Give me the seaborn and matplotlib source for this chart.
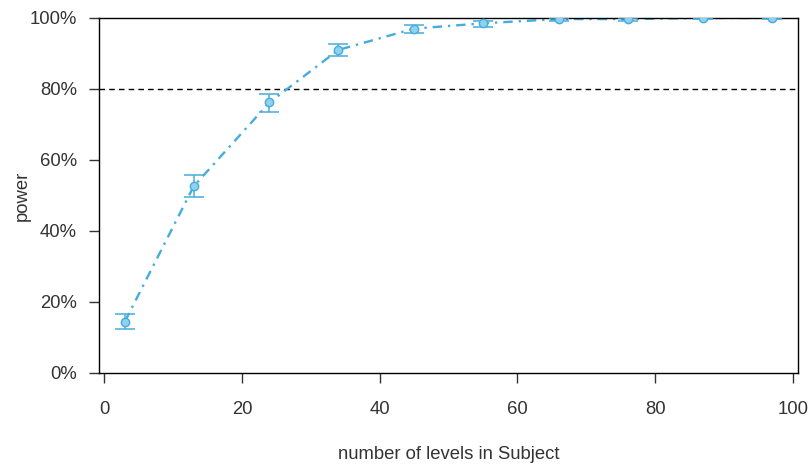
import numpy as np
import pandas as pd
import matplotlib
matplotlib.use('Agg')
import matplotlib.pyplot as plt
import seaborn as sns
from matplotlib.ticker import PercentFormatter

# data
n_levels = [3, 13, 24, 34, 45, 55, 66, 76, 87, 97]
power = [0.145, 0.526, 0.762, 0.910, 0.970, 0.985, 0.997, 0.997, 1.000, 1.000]
ci_lower = [0.124, 0.495, 0.734, 0.893, 0.958, 0.976, 0.992, 0.992, 0.996, 0.996]
ci_upper = [0.167, 0.557, 0.787, 0.927, 0.981, 0.992, 1.000, 1.000, 1.000, 1.000]
target = 0.8

LINE_COL = '#45addb'
FACE_COL = '#8fd2f0'
TXT = '#333333'
FS = 13.3

sns.set_theme(style='white')
plt.rcParams['font.family'] = ['Liberation Sans', 'DejaVu Sans']

df = pd.DataFrame({'n': n_levels, 'power': power})

fig = plt.figure(figsize=(8.1, 4.66), dpi=100)
ax = fig.add_axes([0.1222, 0.1996, 0.8630, 0.7618])

sns.lineplot(data=df, x='n', y='power', ax=ax, color=LINE_COL, linewidth=1.7,
             dashes=False, zorder=2)
ax.lines[0].set_dashes([4, 2.5, 1, 2.5])

yerr = [np.array(power) - np.array(ci_lower), np.array(ci_upper) - np.array(power)]
ax.errorbar(n_levels, power, yerr=yerr, fmt='none', ecolor=LINE_COL,
            elinewidth=1.1, capsize=7.5, capthick=1.1, zorder=3)
ax.scatter(n_levels, power, s=36, facecolor=FACE_COL, edgecolor=LINE_COL,
           linewidth=1.0, zorder=4)

ax.axhline(target, color='black', linestyle=(0, (4, 3)), linewidth=1.0, zorder=1)

ax.set_xlim(-0.76, 100.76)
ax.set_ylim(0, 1)
ax.set_xticks([0, 20, 40, 60, 80, 100])
ax.set_yticks([0, 0.2, 0.4, 0.6, 0.8, 1.0])
ax.yaxis.set_major_formatter(PercentFormatter(1.0, decimals=0))

for s in ax.spines.values():
    s.set_color('black')
    s.set_linewidth(1.0)
    s.set_visible(True)

ax.tick_params(axis='both', direction='out', length=7, width=1.0, color=TXT,
               labelsize=FS, labelcolor=TXT, left=True, bottom=True)
ax.tick_params(axis='x', pad=13)
ax.tick_params(axis='y', pad=9)

ax.set_xlabel('number of levels in Subject', fontsize=FS, color=TXT)
ax.set_ylabel('power', fontsize=FS, color=TXT)
ax.xaxis.set_label_coords(0.5, -0.206)
ax.yaxis.set_label_coords(-0.109, 0.5)
ax.yaxis.label.set_verticalalignment('center')

fig.savefig('out.png', dpi=100)
